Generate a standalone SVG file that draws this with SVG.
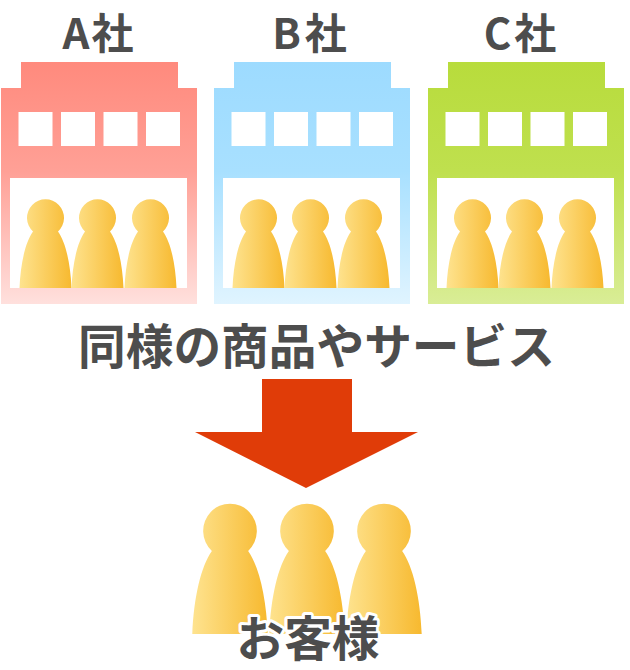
<svg xmlns="http://www.w3.org/2000/svg" xmlns:xlink="http://www.w3.org/1999/xlink" width="630" height="670" viewBox="0 0 630 670">
<style>
text{font-family:"Noto Sans CJK JP","Noto Sans",sans-serif;font-weight:700;fill:#4d4d4d;text-anchor:middle}
.co{font-size:42px}
.big{font-size:47.7px}
.win{fill:#fff}
.halo{font-size:47.700px;stroke:#fff;stroke-width:6px;paint-order:stroke;stroke-linejoin:round}
</style>
<defs>
<linearGradient id="gp" x1="0" y1="0" x2="1" y2="0"><stop offset="0" stop-color="#fee38f"/><stop offset="1" stop-color="#f7b92f"/></linearGradient>
<linearGradient id="ga" x1="0" y1="0" x2="0" y2="1"><stop offset="0" stop-color="#ff8a7d"/><stop offset=".45" stop-color="#ffa096"/><stop offset="1" stop-color="#ffe0dd"/></linearGradient>
<linearGradient id="gb" x1="0" y1="0" x2="0" y2="1"><stop offset="0" stop-color="#9ddbff"/><stop offset=".45" stop-color="#a8e0ff"/><stop offset="1" stop-color="#e0f4ff"/></linearGradient>
<linearGradient id="gc" x1="0" y1="0" x2="0" y2="1"><stop offset="0" stop-color="#b8dc3c"/><stop offset=".45" stop-color="#bfe04e"/><stop offset="1" stop-color="#d9ed96"/></linearGradient>
<path id="person" fill="url(#gp)" d="M-26 0C-25-25-20-46-12.500-56.500A18.500 18.500 0 1 1 12.500-56.500C20-46 25-25 26 0Z"/>
<path id="shop" d="M20 0H177V26H196V242H0V26H20Z"/>
<g id="wins">
<rect class="win" x="17.500" y="50" width="34" height="34"/>
<rect class="win" x="60" y="50" width="34" height="34"/>
<rect class="win" x="102.500" y="50" width="34" height="34"/>
<rect class="win" x="145" y="50" width="34" height="34"/>
<rect class="win" x="9" y="116" width="177" height="110"/>
</g>
<g id="trio">
<use xlink:href="#person" href="#person" x="44.500" y="226"/>
<use xlink:href="#person" href="#person" x="96.500" y="226"/>
<use xlink:href="#person" href="#person" x="149.500" y="226"/>
</g>
</defs>
<g id="connectors">
<path id="arrow" fill="#e03c08" d="M262 379H352V432H418L306 488L195 432H262Z"/>
</g>
<g id="company-a" transform="translate(1 62)">
<use xlink:href="#shop" href="#shop" fill="url(#ga)"/>
<use xlink:href="#wins" href="#wins"/>
<use xlink:href="#trio" href="#trio"/>
<text class="co" x="97" y="-13.300">A<tspan dx="2">社</tspan></text>
</g>
<g id="company-b" transform="translate(214 62)">
<use xlink:href="#shop" href="#shop" fill="url(#gb)"/>
<use xlink:href="#wins" href="#wins"/>
<use xlink:href="#trio" href="#trio"/>
<text class="co" x="95.500" y="-13.300">B<tspan dx="4">社</tspan></text>
</g>
<g id="company-c" transform="translate(428 62)">
<use xlink:href="#shop" href="#shop" fill="url(#gc)"/>
<use xlink:href="#wins" href="#wins"/>
<use xlink:href="#trio" href="#trio"/>
<text class="co" x="92" y="-13.300">C<tspan dx="3">社</tspan></text>
</g>
<g id="products">
<text class="big" x="316.500" y="363.500">同様の商品やサービス</text>
</g>
<g id="customers">
<use xlink:href="#person" href="#person" transform="translate(230 634) scale(1.45 1.47)"/>
<use xlink:href="#person" href="#person" transform="translate(307 634) scale(1.45 1.47)"/>
<use xlink:href="#person" href="#person" transform="translate(384 634) scale(1.45 1.47)"/>
<text class="halo" x="308" y="656.200">お客様</text>
</g>
</svg>
